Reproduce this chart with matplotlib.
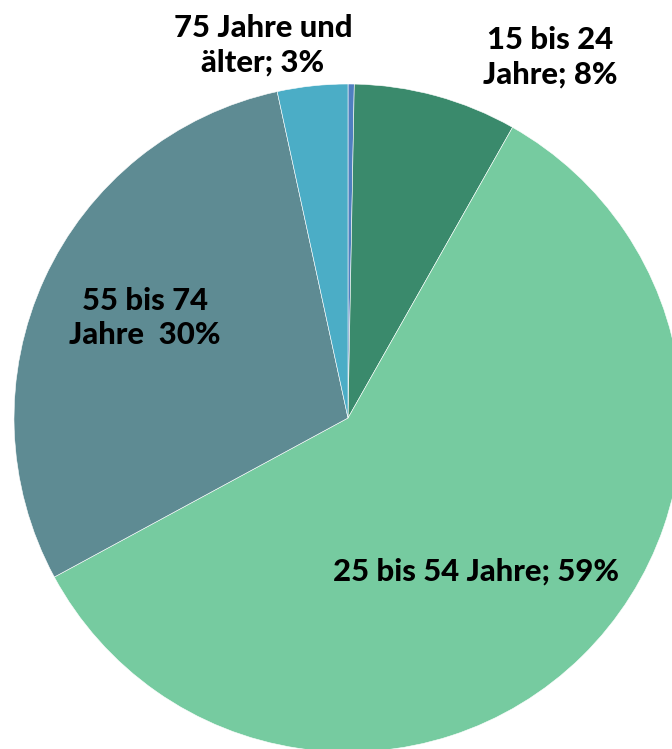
import matplotlib
matplotlib.use("Agg")
import matplotlib.pyplot as plt

categories = ["Unbekannt", "15 bis 24 Jahre", "25 bis 54 Jahre", "55 bis 74 Jahre", "75 Jahre und älter"]
values = [0.3, 7.9, 58.9, 29.5, 3.4]
labels = ["", "15 bis 24\nJahre; 8%", "25 bis 54 Jahre; 59%", "55 bis 74\nJahre  30%", "75 Jahre und\nälter; 3%"]
colors = ["#4f7fc0", "#3a8a6c", "#76cba0", "#5e8b93", "#4badc6"]

W, H = 672, 749
fig = plt.figure(figsize=(W / 100, H / 100), dpi=100)
ax = fig.add_axes([0, 0, 1, 1])
cx, cy, r = 348, H - 418, 334
ax.pie(values, colors=colors, startangle=90, counterclock=False,
       center=(cx, cy), radius=r, frame=True,
       wedgeprops=dict(edgecolor="white", linewidth=0.4))
ax.set_xlim(0, W)
ax.set_ylim(0, H)
ax.set_aspect("equal")
ax.axis("off")

label_pos = [None, (550, H - 57), (476, H - 572), (145, H - 318), (263, H - 45)]
for lab, pos in zip(labels, label_pos):
    if pos is None:
        continue
    ax.text(pos[0], pos[1], lab, ha="center", va="center", fontsize=22.3,
            fontweight="black", family="Lato", linespacing=1.3, color="black")

fig.savefig("out.png", dpi=100)
